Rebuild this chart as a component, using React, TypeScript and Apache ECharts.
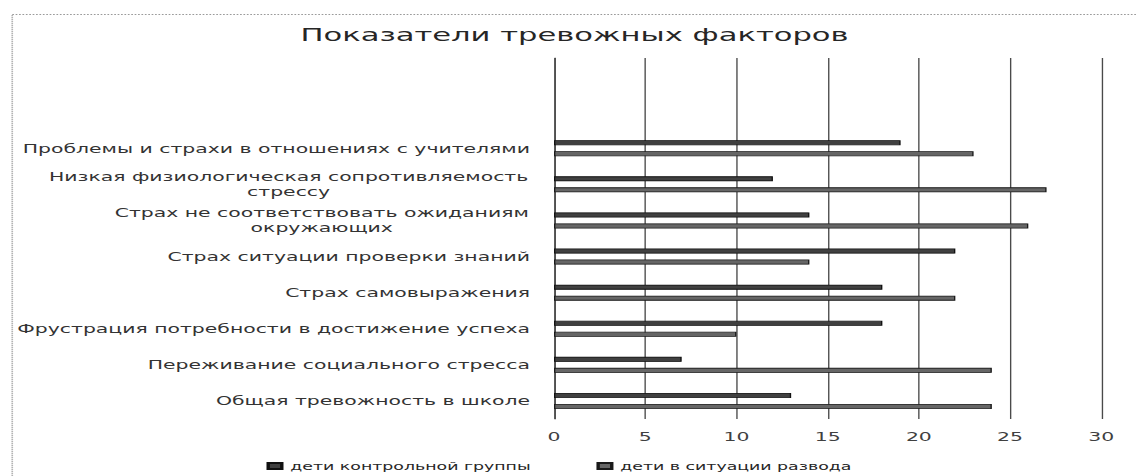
import React, { useEffect, useRef } from "react";
import * as echarts from "echarts";

// The reference picture is stretched horizontally; reproduce that with a CSS scaleX.
const S = 1.7;
const W = 1137 / S;
const H = 476;
const sx = (px: number) => px / S;

const FONT = "DejaVu Sans";
const LABEL_SIZE = 12;

const titleText = "Показатели тревожных факторов";
const seriesNames = ["дети контрольной группы", "дети в ситуации развода"];

const categories = [
  "Проблемы и страхи в отношениях с учителями",
  "Низкая физиологическая сопротивляемость\nстрессу",
  "Страх не соответствовать ожиданиям\nокружающих",
  "Страх ситуации проверки знаний",
  "Страх самовыражения",
  "Фрустрация потребности в достижение успеха",
  "Переживание социального стресса",
  "Общая тревожность в школе",
];

const controlValues = [19, 12, 14, 22, 18, 18, 7, 13];
const divorceValues = [23, 27, 26, 14, 22, 10, 24, 24];

const xTicks = { min: 0, max: 30, interval: 5 };

// two empty rows sit above the data in the plot area
const blankRows = ["__b1", "__b2"];

function measure(text: string, size: number): number {
  const c = document.createElement("canvas");
  const ctx = c.getContext("2d");
  if (!ctx) return text.length * size * 0.6;
  ctx.font = `${size}px "${FONT}"`;
  return ctx.measureText(text).width;
}

export default function App() {
  const ref = useRef<HTMLDivElement>(null);

  useEffect(() => {
    if (!ref.current) return;
    const chart = echarts.init(ref.current, undefined, { renderer: "svg" });
    const yCats = [...blankRows, ...categories];
    const pad = blankRows.map(() => null);

    // rich styles: one per wrapped label, as wide as its longest line, text centred
    const rich: any = {};
    const richKey: Record<string, string> = {};
    categories.forEach((cat, i) => {
      if (cat.includes("\n")) {
        const lines = cat.split("\n");
        const w = Math.ceil(Math.max(...lines.map((l) => measure(l, LABEL_SIZE)))) + 1;
        const key = "w" + i;
        richKey[cat] = key;
        rich[key] = {
          width: w,
          align: "center",
          fontFamily: FONT,
          fontSize: LABEL_SIZE,
          lineHeight: 15,
          color: "#333333",
        };
      }
    });

    const option: any = {
      animation: false,
      backgroundColor: "#ffffff",
      title: {
        text: titleText,
        left: sx(566),
        textAlign: "center",
        top: 21,
        textStyle: {
          fontFamily: FONT,
          fontSize: 18,
          fontWeight: "normal",
          color: "#262626",
        },
      },
      grid: {
        left: sx(554),
        right: W - sx(1101),
        top: 58,
        bottom: H - 419,
      },
      legend: {
        data: seriesNames,
        left: sx(258),
        top: 456,
        icon: "rect",
        itemWidth: 8,
        itemHeight: 6,
        itemGap: sx(66),
        textStyle: { fontFamily: FONT, fontSize: 10.2, color: "#262626" },
      },
      xAxis: {
        type: "value",
        min: xTicks.min,
        max: xTicks.max,
        interval: xTicks.interval,
        axisLine: { show: false },
        axisTick: { show: false },
        splitLine: { show: true, lineStyle: { color: "#4a4a4a", width: 0.8 } },
        axisLabel: {
          margin: 12,
          fontFamily: FONT,
          fontSize: LABEL_SIZE,
          color: "#404040",
        },
      },
      yAxis: {
        type: "category",
        inverse: true,
        data: yCats,
        axisLine: { show: true, lineStyle: { color: "#404040", width: 0.8 } },
        axisTick: { show: false },
        axisLabel: {
          interval: 0,
          margin: sx(24),
          fontFamily: FONT,
          fontSize: LABEL_SIZE,
          lineHeight: 15,
          color: "#333333",
          formatter: (v: string) => {
            if (blankRows.includes(v)) return "";
            const key = richKey[v];
            if (key) {
              return v
                .split("\n")
                .map((l) => `{${key}|${l}}`)
                .join("\n");
            }
            return v;
          },
          rich,
        },
      },
      series: [
        {
          name: seriesNames[0],
          type: "bar",
          data: [...pad, ...controlValues],
          barWidth: 5,
          barGap: "120%",
          itemStyle: { color: "#404040", borderColor: "#111111", borderWidth: 0.8 },
        },
        {
          name: seriesNames[1],
          type: "bar",
          data: [...pad, ...divorceValues],
          barWidth: 5,
          barGap: "120%",
          itemStyle: { color: "#666666", borderColor: "#1a1a1a", borderWidth: 0.8 },
        },
      ],
      graphic: [
        {
          type: "rect",
          left: sx(8),
          top: 12,
          shape: { width: W, height: H },
          style: { fill: "none", stroke: "#9a9a9a", lineWidth: 1, lineDash: [1, 1] },
          silent: true,
        },
      ],
    };

    chart.setOption(option);
    return () => chart.dispose();
  }, []);

  return (
    <div
      style={{
        position: "fixed",
        left: 0,
        top: 0,
        width: 1137,
        height: H,
        overflow: "hidden",
        background: "#fff",
      }}
    >
      <div
        ref={ref}
        style={{
          width: W,
          height: H,
          transform: `scaleX(${S})`,
          transformOrigin: "0 0",
        }}
      />
    </div>
  );
}
